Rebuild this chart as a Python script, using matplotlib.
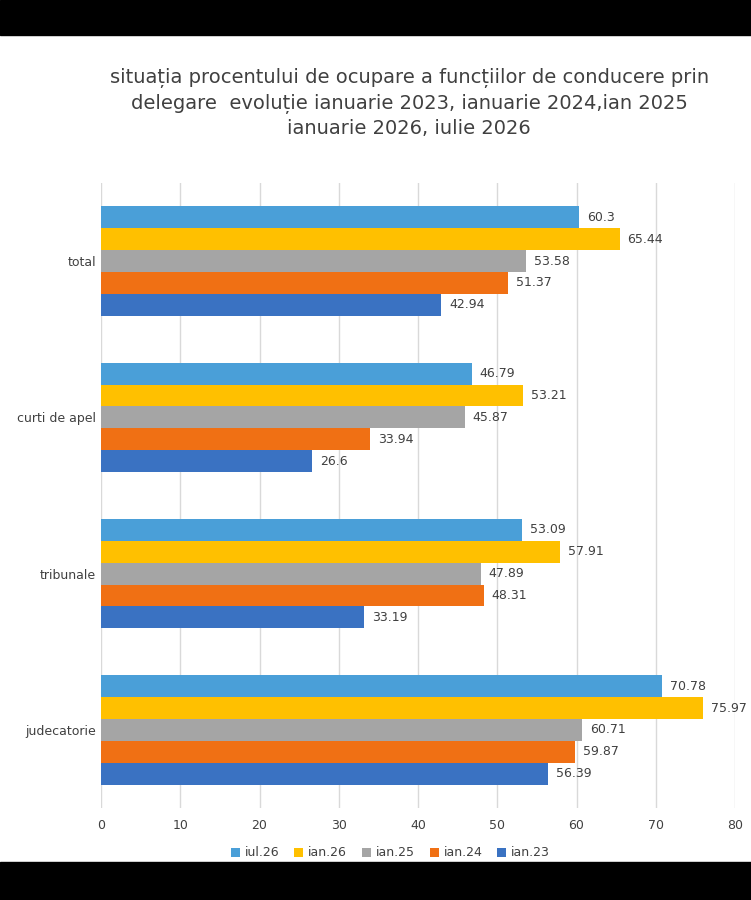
import matplotlib.pyplot as plt
import matplotlib.patches as patches
import numpy as np

categories = ['judecatorie', 'tribunale', 'curti de apel', 'total']
series = ['iul.26', 'ian.26', 'ian.25', 'ian.24', 'ian.23']
values = {
    'iul.26': [70.78, 53.09, 46.79, 60.3],
    'ian.26': [75.97, 57.91, 53.21, 65.44],
    'ian.25': [60.71, 47.89, 45.87, 53.58],
    'ian.24': [59.87, 48.31, 33.94, 51.37],
    'ian.23': [56.39, 33.19, 26.6, 42.94],
}
colors = ['#4A9FD8', '#FFC000', '#A5A5A5', '#F07014', '#3A72C2']

fig = plt.figure(figsize=(7.51, 9), dpi=100)
fig.patches.append(patches.Rectangle((0, 1 - 35 / 900), 1, 35 / 900, transform=fig.transFigure, color='black', zorder=0))
fig.patches.append(patches.Rectangle((0, 0), 1, 38 / 900, transform=fig.transFigure, color='black', zorder=0))

ax = fig.add_axes([101 / 751, 1 - 808 / 900, 634 / 751, 625 / 900])
h = 0.14
y = np.arange(len(categories))
for i, s in enumerate(series):
    pos = y + (2 - i) * h
    bars = ax.barh(pos, values[s], height=h, color=colors[i], label=s, zorder=2)
    for b, v in zip(bars, values[s]):
        ax.text(v + 1, b.get_y() + h / 2, f'{v:g}', va='center', ha='left', fontsize=9, color='#404040')

ax.set_xlim(0, 80)
ax.set_ylim(-0.5, 3.5)
ax.set_xticks(range(0, 81, 10))
ax.set_yticks(y)
ax.set_yticklabels(categories)
ax.tick_params(length=0, labelsize=9, colors='#404040')
ax.tick_params(axis='x', pad=8)
ax.grid(axis='x', color='#D9D9D9', lw=1, zorder=0)
for sp in ax.spines.values():
    sp.set_visible(False)

fig.text(0.545, 1 - 103 / 900,
         'situația procentului de ocupare a funcțiilor de conducere prin\n'
         'delegare  evoluție ianuarie 2023, ianuarie 2024,ian 2025\n'
         'ianuarie 2026, iulie 2026',
         ha='center', va='center', fontsize=14, color='#404040', linespacing=1.35)

handles, labels = ax.get_legend_handles_labels()
fig.legend(handles, labels, loc='center', bbox_to_anchor=(0.52, 1 - 853 / 900), ncol=5,
           frameon=False, fontsize=9, handlelength=0.7, handleheight=0.7, columnspacing=1.2,
           handletextpad=0.4, labelcolor='#404040')

fig.savefig('out.png', dpi=100)
